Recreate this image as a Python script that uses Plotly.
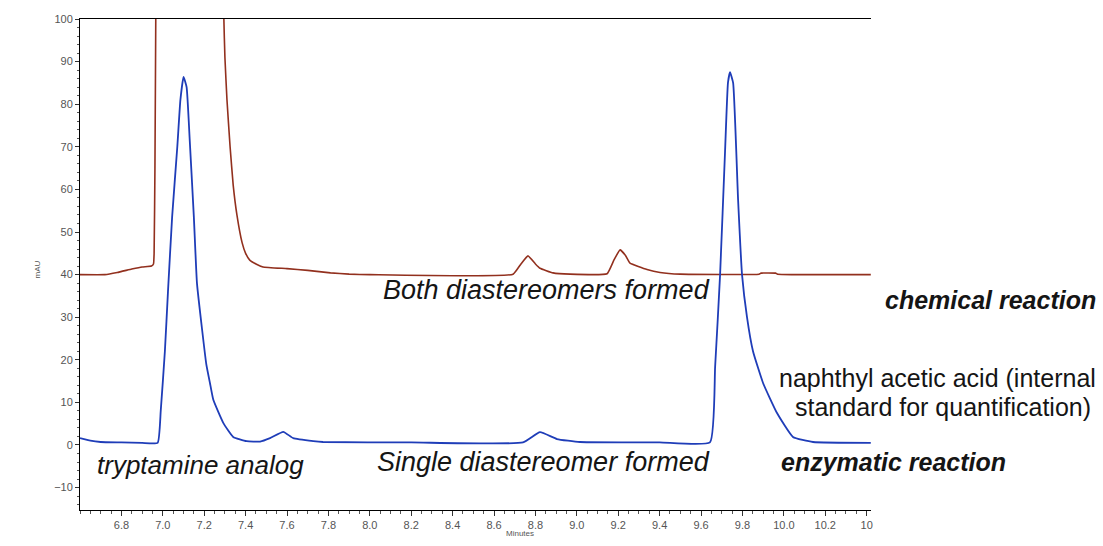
import plotly.graph_objects as go

# Chemical reaction trace (time in minutes, absorbance mAU); values >100 are off-scale
chem_time = [6.60, 6.72, 6.78, 6.85, 6.90, 6.945, 6.955, 6.958, 6.962, 6.966, 6.97, 7.29, 7.295,
             7.30, 7.31, 7.325, 7.34, 7.358, 7.383, 7.40, 7.42, 7.45, 7.484, 7.60, 7.70, 7.81,
             7.90, 8.00, 8.692, 8.73, 8.764, 8.80, 8.822, 8.885, 8.967, 9.146, 9.18, 9.209,
             9.235, 9.257, 9.339, 9.402, 9.50, 9.88, 9.89, 9.96, 9.97, 10.42]
chem_mau = [40, 40, 40.5, 41.3, 41.8, 42, 42.5, 45, 65, 100, 130, 130, 100,
            91, 81, 70, 61, 54, 47.5, 45, 43.4, 42.5, 41.8, 41.4, 41, 40.4,
            40.1, 40, 40.1, 42.5, 44.4, 42.5, 41.5, 40.4, 40.1, 40.2, 43.5, 45.8,
            44.5, 42.7, 41.2, 40.5, 40.1, 40.1, 40.35, 40.35, 40.1, 40]

# Enzymatic reaction trace
enz_time = [6.60, 6.65, 6.70, 6.80, 6.90, 6.975, 6.99, 7.01, 7.025, 7.045, 7.07, 7.085, 7.10,
            7.115, 7.13, 7.15, 7.165, 7.19, 7.21, 7.228, 7.244, 7.292, 7.34, 7.405, 7.47,
            7.518, 7.582, 7.63, 7.727, 7.774, 8.20, 8.74, 8.822, 8.904, 9.015, 9.40, 9.643,
            9.668, 9.692, 9.716, 9.730, 9.740, 9.755, 9.779, 9.798, 9.822, 9.851, 9.90,
            9.967, 10.044, 10.141, 10.42]
enz_mau = [1.6, 1.0, 0.7, 0.6, 0.5, 0.5, 8, 22, 36, 53.5, 70, 81, 86.4,
           84, 71.6, 53.5, 38, 27, 19, 14.5, 10.6, 5.2, 1.9, 0.9, 0.8,
           1.6, 3.1, 1.6, 0.9, 0.7, 0.6, 0.6, 3.0, 1.4, 0.7, 0.6, 0.6,
           18.3, 40, 69, 85, 87.5, 85, 57.5, 40, 30, 22, 14.5,
           7.5, 1.9, 0.7, 0.5]

x_tick_vals = [6.8, 7.0, 7.2, 7.4, 7.6, 7.8, 8.0, 8.2, 8.4, 8.6, 8.8, 9.0, 9.2, 9.4, 9.6, 9.8,
               10.0, 10.2, 10.4]
x_tick_text = ["6.8", "7.0", "7.2", "7.4", "7.6", "7.8", "8.0", "8.2", "8.4", "8.6", "8.8",
               "9.0", "9.2", "9.4", "9.6", "9.8", "10.0", "10.2", "10"]
y_tick_vals = [-10, 0, 10, 20, 30, 40, 50, 60, 70, 80, 90, 100]

FONT = "Liberation Sans, Arial, sans-serif"

fig = go.Figure()
fig.add_trace(go.Scatter(x=chem_time, y=chem_mau, mode="lines",
                         line=dict(color="#92301e", width=1.6, shape="spline", smoothing=0.35),
                         name="chemical reaction"))
fig.add_trace(go.Scatter(x=enz_time, y=enz_mau, mode="lines",
                         line=dict(color="#1f3db8", width=1.8, shape="spline", smoothing=0.4),
                         name="enzymatic reaction"))

def px2paper(px, py):
    return (px - 80) / 791.0, (510 - py) / 491.0

annots = [
    ("<i>Both diastereomers formed</i>", 546, 290, 27),
    ("<i>Single diastereomer formed</i>", 543, 462, 27),
    ("<i>tryptamine analog</i>", 200, 465, 26),
    ("<b><i>chemical reaction</i></b>", 990, 300, 25),
    ("naphthyl acetic acid (internal", 937, 378, 25),
    ("standard for quantification)", 943, 407, 25),
    ("<b><i>enzymatic reaction</i></b>", 893, 462, 25),
]
annotations = []
for text, px, py, size in annots:
    ax_, ay_ = px2paper(px, py)
    annotations.append(dict(text=text, x=ax_, y=ay_, xref="paper", yref="paper",
                            xanchor="center", yanchor="middle", showarrow=False,
                            align="center", font=dict(family=FONT, size=size, color="#151515")))
# axis titles
annotations.append(dict(text="Minutes", x=px2paper(520, 540)[0], y=px2paper(520, 540)[1],
                        xref="paper", yref="paper", showarrow=False,
                        font=dict(family=FONT, size=8, color="#555")))
annotations.append(dict(text="mAU", x=px2paper(30, 270)[0], y=px2paper(30, 270)[1],
                        xref="paper", yref="paper", showarrow=False, textangle=-90,
                        font=dict(family=FONT, size=8, color="#555")))

fig.update_layout(
    width=1103, height=546,
    margin=dict(l=80, r=232, t=19, b=36),
    paper_bgcolor="white", plot_bgcolor="white",
    showlegend=False,
    annotations=annotations,
    xaxis=dict(range=[6.6, 10.421], tickvals=x_tick_vals, ticktext=x_tick_text,
               showgrid=False, zeroline=False, showline=True, linecolor="black", linewidth=1,
               mirror=True, ticks="outside", ticklen=5, tickcolor="#333",
               tickfont=dict(family=FONT, size=11, color="#555"),
               minor=dict(ticks="outside", dtick=0.05, ticklen=3, tickcolor="#555")),
    yaxis=dict(range=[-15.26, 100], tickvals=y_tick_vals,
               showgrid=False, zeroline=False, showline=True, linecolor="black", linewidth=1,
               ticks="outside", ticklen=4, tickcolor="#333",
               tickfont=dict(family=FONT, size=11, color="#555"),
               minor=dict(ticks="outside", dtick=2, ticklen=2, tickcolor="#555")),
)

fig.write_html("out.html", config={"displayModeBar": False},
               post_script="document.body.style.margin='0';document.body.style.overflow='hidden';")
